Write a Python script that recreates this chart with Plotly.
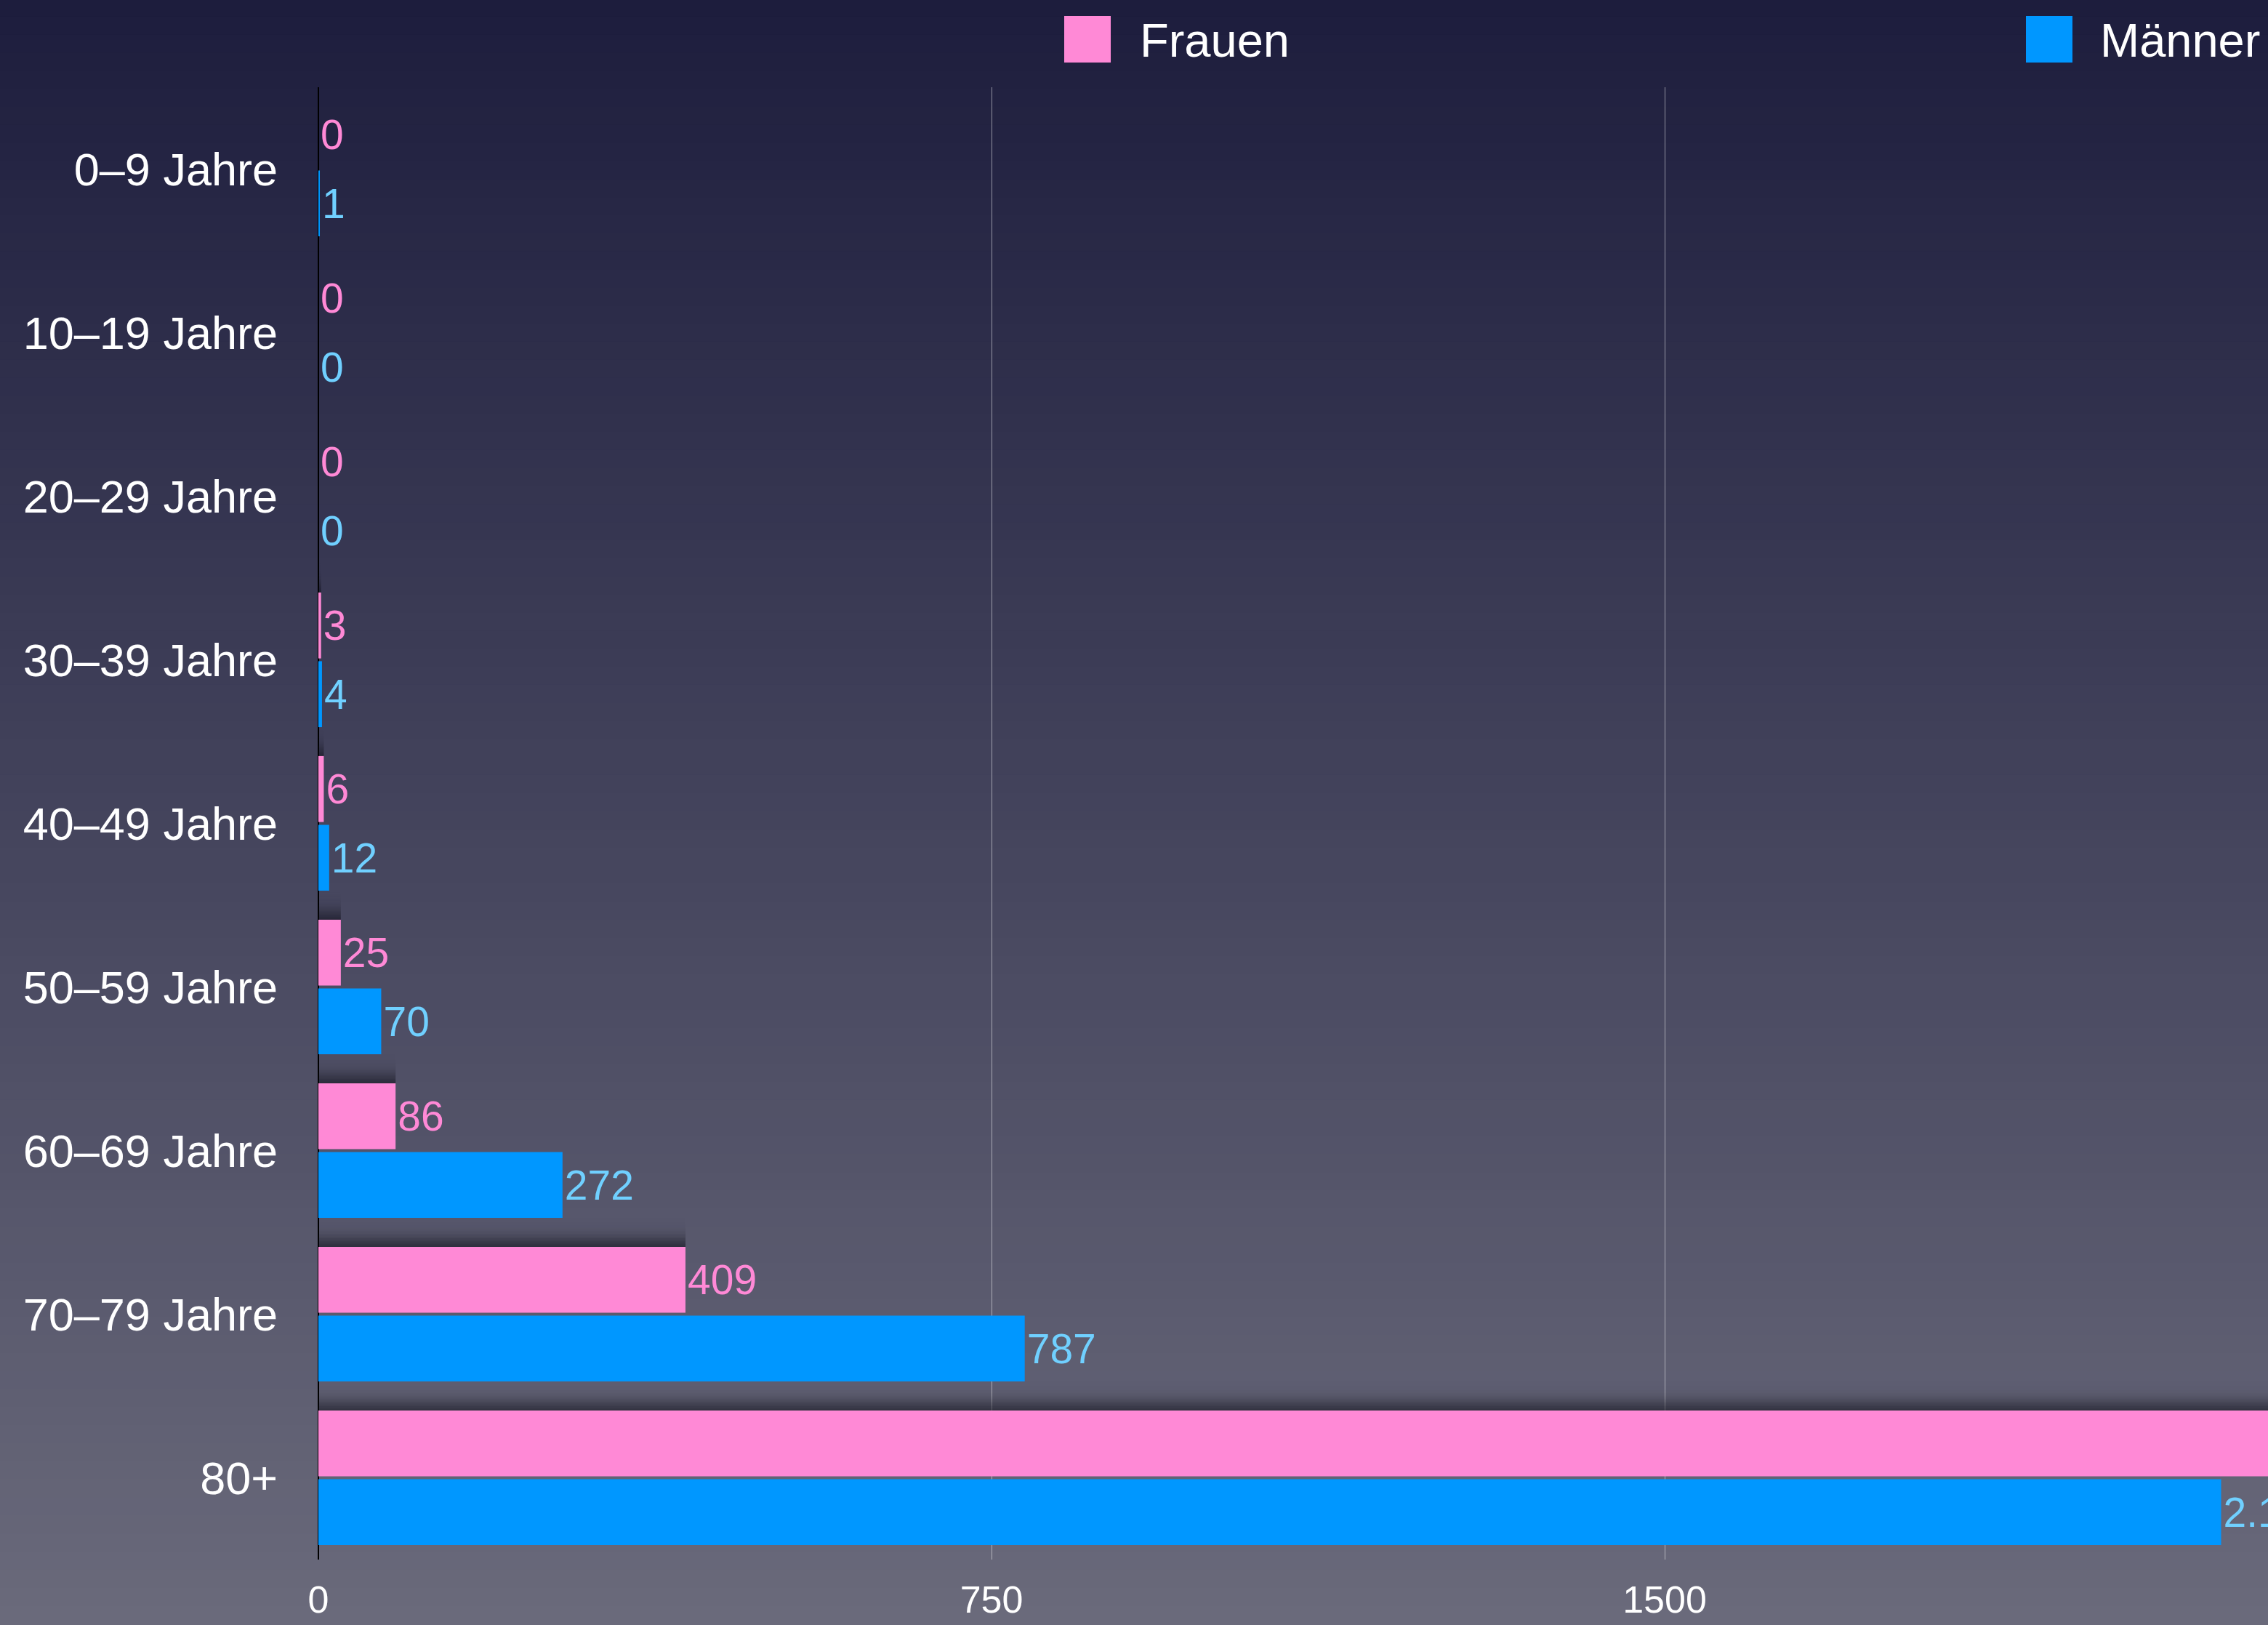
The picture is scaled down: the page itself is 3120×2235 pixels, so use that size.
import math
import plotly.graph_objects as go

# ---------------- data ----------------
categories = ["0–9 Jahre", "10–19 Jahre", "20–29 Jahre", "30–39 Jahre", "40–49 Jahre",
              "50–59 Jahre", "60–69 Jahre", "70–79 Jahre", "80+"]
frauen = [0, 0, 0, 3, 6, 25, 86, 409, 2600]
maenner = [1, 0, 0, 4, 12, 70, 272, 787, 2120]
series_names = ["Frauen", "Männer"]
x_tickvals = [0, 750, 1500]

# ---------------- layout constants ----------------
W, H = 3120, 2235
ML, MR, MT, MB = 438, 0, 120, 90
plot_w = W - ML - MR
plot_h = H - MT - MB
px_per_unit = 926 / 750
x_max = plot_w / px_per_unit
pitch = plot_h / len(categories)

PINK = "#ff89d6"
BLUE = "#0097ff"
PINK_TXT = "#ff89d6"
BLUE_TXT = "#70d0ff"
FONT = "Liberation Sans, Arial, Helvetica, sans-serif"

def de(v):
    return f"{v:,}".replace(",", ".")

slot = 0.42
bw = 0.403
f_off = -(slot - (slot - bw) / 2)
m_off = (slot - bw) / 2

fig = go.Figure()

# soft drop shadow above the Frauen bars (blurred, offset upward)
band_px = 2
n = 22
sh_off, sh_sigma, sh_amp = 9.0, 11.0, 0.7
for i in range(n):
    d = (i + 0.5) * band_px
    z = (sh_off - d) / sh_sigma
    a = sh_amp * 0.5 * (1 + math.erf(z / math.sqrt(2)))
    fig.add_trace(go.Bar(
        y=categories, x=frauen, orientation="h",
        offset=f_off - (i + 1) * band_px / pitch, width=band_px / pitch,
        marker=dict(color=f"rgba(14,14,24,{a:.3f})", line=dict(width=0)),
        hoverinfo="skip", showlegend=False,
    ))

fig.add_trace(go.Bar(
    name=series_names[0], y=categories, x=frauen, orientation="h",
    offset=f_off, width=bw,
    marker=dict(color=PINK, line=dict(width=0)),
    text=[de(v) for v in frauen], textposition="outside",
    textfont=dict(color=PINK_TXT, size=57, family=FONT),
    constraintext="none", cliponaxis=True, showlegend=False,
))
fig.add_trace(go.Bar(
    name=series_names[1], y=categories, x=maenner, orientation="h",
    offset=m_off, width=bw,
    marker=dict(color=BLUE, line=dict(width=0)),
    text=[de(v) for v in maenner], textposition="outside",
    textfont=dict(color=BLUE_TXT, size=57, family=FONT),
    constraintext="none", cliponaxis=True, showlegend=False,
))

# gradient background
shapes = []
top_c = (29, 29, 61)
bot_c = (106, 106, 123)
nb = 90
y_top = 1 + MT / plot_h
y_bot = -MB / plot_h
for i in range(nb):
    t = (i + 0.5) / nb
    c = tuple(round(top_c[k] + (bot_c[k] - top_c[k]) * t) for k in range(3))
    y0 = y_top - (y_top - y_bot) * i / nb
    y1 = y_top - (y_top - y_bot) * (i + 1) / nb
    shapes.append(dict(type="rect", xref="paper", yref="paper", x0=-0.5, x1=1.5,
                       y0=y1 - 0.001, y1=y0 + 0.001, layer="below",
                       fillcolor=f"rgb{c}", line=dict(width=0)))

def xp(px):
    return (px - ML) / plot_w

def yp(py):
    return 1 - (py - MT) / plot_h

annotations = []
legend_items = [(series_names[0], PINK, 1464, 1566), (series_names[1], BLUE, 2787, 2887)]
for name, col, x0, tx in legend_items:
    shapes.append(dict(type="rect", xref="paper", yref="paper",
                       x0=xp(x0), x1=xp(x0 + 64), y0=yp(86), y1=yp(22),
                       fillcolor=col, line=dict(width=0)))
    annotations.append(dict(text=name, xref="paper", yref="paper", x=xp(tx), y=yp(56),
                            xanchor="left", yanchor="middle", showarrow=False,
                            font=dict(color="white", size=65, family=FONT)))

fig.update_layout(
    width=W, height=H,
    margin=dict(l=ML, r=MR, t=MT, b=MB),
    paper_bgcolor="rgb(29,29,61)", plot_bgcolor="rgba(0,0,0,0)",
    barmode="overlay",
    shapes=shapes, annotations=annotations,
    showlegend=False,
    xaxis=dict(range=[0, x_max], tickvals=x_tickvals, ticktext=[str(v) for v in x_tickvals],
               showgrid=True, gridcolor="rgba(255,255,255,0.5)", gridwidth=1,
               zeroline=True, zerolinecolor="black", zerolinewidth=2,
               tickfont=dict(color="white", size=52, family=FONT),
               ticks="", ticklabelstandoff=20, fixedrange=True),
    yaxis=dict(categoryorder="array", categoryarray=categories,
               range=[len(categories) - 0.5, -0.5], autorange=False,
               showgrid=False, zeroline=False, showline=False,
               tickfont=dict(color="white", size=63, family=FONT),
               ticks="", ticklabelstandoff=55, fixedrange=True),
)

fig.write_html("out.html", config={"displayModeBar": False},
               post_script="document.body.style.margin='0';document.body.style.overflow='hidden';")
